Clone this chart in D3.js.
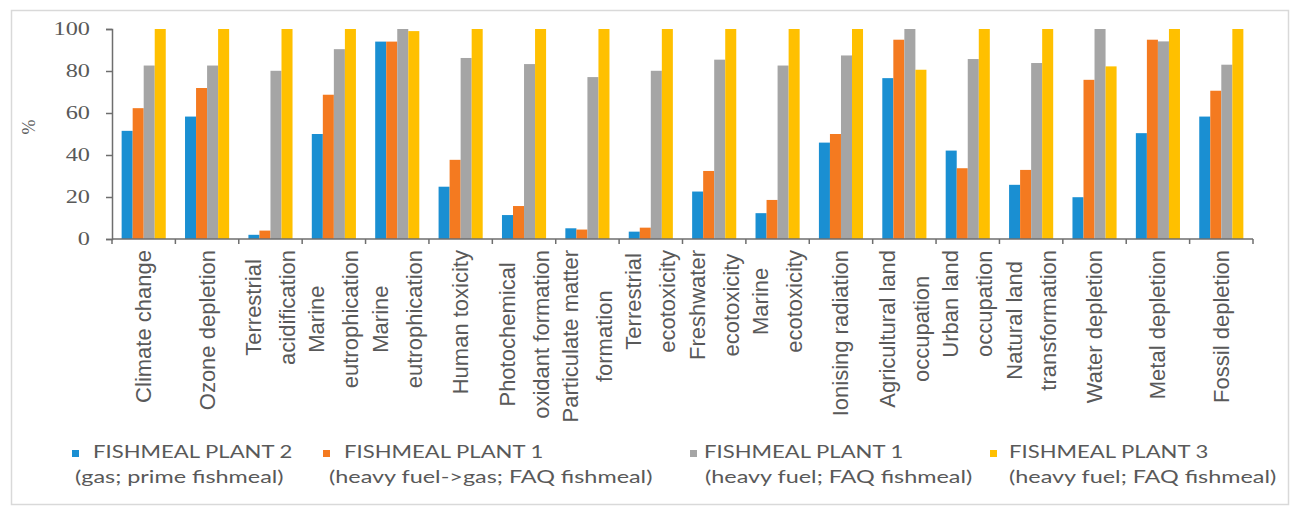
<!DOCTYPE html>
<html>
<head>
<meta charset="utf-8">
<script src="https://cdn.jsdelivr.net/npm/d3@7"></script>
<style>
  html, body { margin: 0; padding: 0; background: #ffffff; }
  svg { display: block; }
</style>
</head>
<body>
<script>
// Impact categories (line breaks mark the wrapped label lines)
const categories = [
  "Climate change", "Ozone depletion", "Terrestrial\nacidification",
  "Marine\neutrophication", "Marine\neutrophication", "Human toxicity",
  "Photochemical\noxidant formation", "Particulate matter\nformation",
  "Terrestrial\necotoxicity", "Freshwater\necotoxicity", "Marine\necotoxicity",
  "Ionising radiation", "Agricultural land\noccupation", "Urban land\noccupation",
  "Natural land\ntransformation", "Water depletion", "Metal depletion", "Fossil depletion"
];

// Relative impact (%) per plant, one value per category
const plant2Gas = [51.5, 58.3, 2, 50, 94, 24.9, 11.4, 5.1, 3.5, 22.6, 12.3, 45.9, 76.6, 42.1, 25.8, 19.9, 50.4, 58.3];
const plant1FuelToGas = [62.3, 71.9, 4, 68.7, 94, 37.7, 15.7, 4.5, 5.4, 32.4, 18.6, 50, 94.9, 33.7, 32.9, 75.8, 94.9, 70.6];
const plant1Fuel = [82.6, 82.6, 80.1, 90.4, 100, 86.2, 83.3, 77.1, 80.1, 85.4, 82.6, 87.4, 100, 85.7, 83.8, 100, 94.1, 83];
const plant3Fuel = [100, 100, 100, 100, 99, 100, 100, 100, 100, 100, 100, 100, 80.6, 100, 100, 82.2, 100, 100];

const seriesNames = ["FISHMEAL PLANT 2", "FISHMEAL PLANT 1", "FISHMEAL PLANT 1", "FISHMEAL PLANT 3"];
const seriesNotes = ["(gas; prime fishmeal)", "(heavy fuel->gas; FAQ fishmeal)", "(heavy fuel; FAQ fishmeal)", "(heavy fuel; FAQ fishmeal)"];
const seriesColors = ["#1a8fd2", "#f47a20", "#a5a5a5", "#ffc000"];
const yTicks = [0, 20, 40, 60, 80, 100];

const allSeries = [plant2Gas, plant1FuelToGas, plant1Fuel, plant3Fuel];

const W = 1294, H = 515;
const plot = { left: 112, right: 1253, top: 29, bottom: 239 };
const textColor = "#595959";
const axisColor = "#6e6e6e";

const svg = d3.select("body").append("svg").attr("width", W).attr("height", H);

// chart frame
svg.append("rect").attr("x", 11.5).attr("y", 10.5).attr("width", 1277).attr("height", 494)
  .attr("fill", "#ffffff").attr("stroke", "#d9d9d9").attr("stroke-width", 1.5);

const x0 = d3.scaleBand().domain(d3.range(categories.length)).range([plot.left, plot.right]);
const inset = x0.bandwidth() * 0.152;
const x1 = d3.scaleBand().domain(d3.range(allSeries.length)).range([inset, x0.bandwidth() - inset]);
const y = d3.scaleLinear().domain([0, 100]).range([plot.bottom, plot.top]);

// bars
const groups = svg.append("g").selectAll("g").data(categories).join("g")
  .attr("transform", (d, i) => `translate(${x0(i)},0)`);
groups.selectAll("rect")
  .data((d, i) => allSeries.map((s, k) => ({ k, v: s[i] })))
  .join("rect")
  .attr("x", d => x1(d.k))
  .attr("width", x1.bandwidth())
  .attr("y", d => y(d.v))
  .attr("height", d => y(0) - y(d.v))
  .attr("fill", d => seriesColors[d.k]);

// y axis
const yAxis = svg.append("g").attr("transform", `translate(${plot.left},0)`)
  .call(d3.axisLeft(y).tickValues(yTicks).tickSize(6).tickPadding(16).tickFormat(d3.format("d")));
yAxis.select(".domain").attr("stroke", axisColor).attr("stroke-width", 1.5);
yAxis.selectAll(".tick line").attr("stroke", axisColor).attr("stroke-width", 1.5);
yAxis.selectAll(".tick text")
  .attr("fill", textColor)
  .style("font-family", "'Liberation Serif', serif")
  .style("font-size", "18px");
// widen the serif digits a little
yAxis.selectAll(".tick text").each(function () {
  const t = d3.select(this);
  const xx = +t.attr("x");
  t.attr("x", 0).attr("transform", `translate(${xx},0) scale(1.35,1)`);
});

// y axis title
svg.append("text")
  .attr("transform", "translate(35,127) rotate(-90)")
  .attr("text-anchor", "middle")
  .attr("fill", textColor)
  .style("font-family", "'Liberation Serif', serif")
  .style("font-size", "18px")
  .text("%");

// x axis with ticks at category boundaries
const xAxisG = svg.append("g");
xAxisG.append("line")
  .attr("x1", plot.left).attr("x2", plot.right)
  .attr("y1", y(0)).attr("y2", y(0))
  .attr("stroke", axisColor).attr("stroke-width", 1.5);
xAxisG.selectAll("line.tk").data(d3.range(categories.length + 1)).join("line")
  .attr("class", "tk")
  .attr("x1", i => plot.left + i * x0.step()).attr("x2", i => plot.left + i * x0.step())
  .attr("y1", y(0)).attr("y2", y(0) + 5)
  .attr("stroke", axisColor).attr("stroke-width", 1.5);

// category labels: rotated, block end aligned at the axis, lines centred in the block
const labelTop = 250;
const lineGap = 34;
const labelFont = "'Liberation Sans', Arial, sans-serif";
categories.forEach((c, i) => {
  const lines = c.split("\n");
  const cx = x0(i) + x0.bandwidth() / 2;
  const g = svg.append("g");
  const texts = lines.map(ln => g.append("text")
    .attr("fill", textColor)
    .style("font-family", labelFont)
    .style("font-size", "22px")
    .attr("text-anchor", "middle")
    .attr("dominant-baseline", "central")
    .text(ln));
  const maxLen = d3.max(texts, t => t.node().getComputedTextLength());
  const offset0 = -(lines.length - 1) * lineGap / 2;
  texts.forEach((t, j) => {
    t.attr("transform", `translate(${cx + offset0 + j * lineGap},${labelTop + maxLen / 2}) rotate(-90)`);
  });
});

// legend
const legendX = [72, 323, 690, 990];
const legendTextX = [93, 344, 704, 1009];
const legendNoteX = [75, 329, 705, 1009];
const legend = svg.append("g");
seriesNames.forEach((name, k) => {
  legend.append("rect")
    .attr("x", legendX[k]).attr("y", 450)
    .attr("width", 7).attr("height", 7)
    .attr("fill", seriesColors[k]);
  legend.append("text")
    .attr("transform", `translate(${legendTextX[k]},458) scale(1.3,1)`)
    .attr("fill", textColor)
    .style("font-family", "Lato, sans-serif")
    .style("font-size", "17px")
    .text(name);
  legend.append("text")
    .attr("transform", `translate(${legendNoteX[k]},483) scale(1.3,1)`)
    .attr("fill", textColor)
    .style("font-family", "Lato, sans-serif")
    .style("font-size", "18px")
    .text(seriesNotes[k]);
});
</script>
</body>
</html>
